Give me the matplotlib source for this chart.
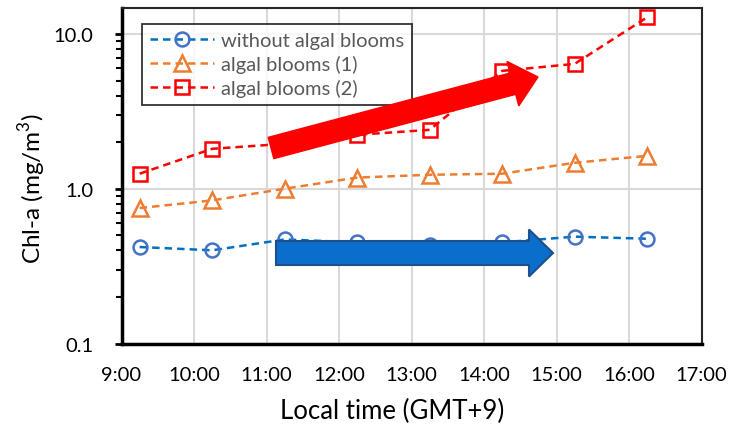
import matplotlib
matplotlib.use('Agg')
import matplotlib.pyplot as plt
import matplotlib.patches as mpatches
import matplotlib.transforms as mtransforms
from matplotlib.ticker import FixedLocator, LogLocator, NullFormatter, FuncFormatter

plt.rcParams['font.family'] = ['Lato', 'DejaVu Sans']
plt.rcParams['mathtext.fontset'] = 'custom'
plt.rcParams['mathtext.rm'] = 'Lato'

# данные
times = ['9:15', '10:15', '11:15', '12:15', '13:15', '14:15', '15:15', '16:15']
without_blooms = [0.42, 0.40, 0.47, 0.45, 0.435, 0.45, 0.49, 0.475]
blooms_1 = [0.75, 0.84, 1.00, 1.18, 1.23, 1.25, 1.47, 1.63]
blooms_2 = [1.25, 1.81, 1.95, 2.23, 2.40, 5.77, 6.40, 12.8]
hour_ticks = [9, 10, 11, 12, 13, 14, 15, 16, 17]

def to_hours(t):
    h, m = t.split(':')
    return int(h) + int(m) / 60

x = [to_hours(t) for t in times]

W, H = 736, 427
fig = plt.figure(figsize=(W / 100, H / 100), dpi=100)
ax = fig.add_axes([121.5 / W, 1 - 344.5 / H, 580 / W, 335.5 / H])

ax.plot(x, without_blooms, ls=(0, (3, 2)), lw=1.8, color='#0070c0', marker='o', ms=10,
        mfc='none', mec='#4472c4', mew=1.8, label='without algal blooms')
ax.plot(x, blooms_1, ls=(0, (3, 2)), lw=1.8, color='#ed7d31', marker='^', ms=12,
        mfc='none', mec='#ed7d31', mew=1.8, label='algal blooms (1)')
ax.plot(x, blooms_2, ls=(0, (3, 2)), lw=1.8, color='#ff0000', marker='s', ms=10,
        mfc='none', mec='#ff0000', mew=1.8, label='algal blooms (2)')

ax.set_yscale('log')
ax.set_ylim(0.1, 14.7)
ax.set_xlim(9, 17)
ax.yaxis.set_major_locator(FixedLocator([0.1, 1, 10]))
ax.yaxis.set_major_formatter(FuncFormatter(lambda v, p: f'{v:.1f}'))
ax.yaxis.set_minor_locator(LogLocator(base=10, subs=range(2, 10)))
ax.yaxis.set_minor_formatter(NullFormatter())
ax.xaxis.set_major_locator(FixedLocator(hour_ticks))
ax.xaxis.set_major_formatter(FuncFormatter(lambda v, p: f'{int(v)}:00'))

ax.tick_params(axis='y', which='major', length=5, width=2, labelsize=14.5, pad=15)
ax.tick_params(axis='y', which='minor', length=4, width=1.5)
ax.tick_params(axis='x', length=0, labelsize=14.5, pad=16)
ax.grid(True, which='major', color='#d9d9d9', lw=1.5)
ax.set_axisbelow(True)

for side in ['left', 'bottom']:
    ax.spines[side].set_linewidth(2.5)
for side in ['top', 'right']:
    ax.spines[side].set_linewidth(1.5)
    ax.spines[side].set_color('#262626')

ax.set_ylabel('Chl-a (mg/m$^3$)', fontsize=17.5, va='center')
ax.yaxis.set_label_coords((32 - 121.5) / 580, 0.466)
ax.set_xlabel('Local time (GMT+9)', fontsize=18.5, va='center')
ax.xaxis.set_label_coords(0.466, (344.5 - 411) / 335.5)

leg = ax.legend(loc='upper left', bbox_to_anchor=(20 / 580, 1 - 16 / 335.5), fontsize=14.5,
                frameon=True, fancybox=False, edgecolor='black', handlelength=3.2,
                borderpad=0.4, labelspacing=0.28, handletextpad=0.35, borderaxespad=0)
leg.get_frame().set_linewidth(1.3)
for txt in leg.get_texts():
    txt.set_color('#595959')

# стрелки в пикселях картинки (начало координат слева сверху)
px = mtransforms.Affine2D().scale(1 / W, -1 / H).translate(0, 1) + fig.transFigure
red_arrow = mpatches.FancyArrow(271, 149, 267, -71, width=22, head_width=46, head_length=26,
                                length_includes_head=True, color='#ff0000', transform=px, zorder=5)
blue_arrow = mpatches.FancyArrow(276, 254, 277, 0, width=24, head_width=47, head_length=24,
                                 length_includes_head=True, fc='#0a6fca', ec='#1f4e8c', lw=1.5,
                                 transform=px, zorder=5)
fig.add_artist(red_arrow)
fig.add_artist(blue_arrow)

fig.savefig('out.png', dpi=100)
